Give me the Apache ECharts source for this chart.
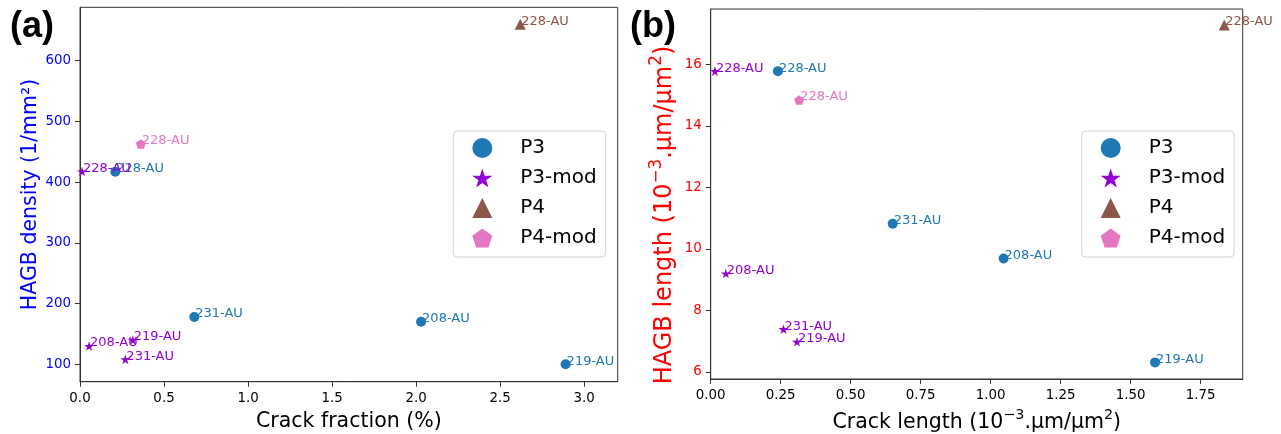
<!DOCTYPE html>
<html>
<head>
<meta charset="utf-8">
<script src="https://cdn.jsdelivr.net/npm/echarts@6/dist/echarts.min.js"></script>
<style>
  html, body { margin: 0; padding: 0; background: #fff; }
  #chart { width: 1281px; height: 434px; }
</style>
</head>
<body>
<div id="chart"></div>
<script>
// ---------- Panel (a): Crack fraction (%) vs HAGB density ----------
const aP3X = [0.21, 0.68, 2.03, 2.89];
const aP3Y = [417, 178, 170, 100];
const aP3Labels = ['228-AU', '231-AU', '208-AU', '219-AU'];

const aP3modX = [0.012, 0.054, 0.314, 0.27];
const aP3modY = [417.5, 130, 140, 108];
const aP3modLabels = ['228-AU', '208-AU', '219-AU', '231-AU'];

const aP4X = [2.62];
const aP4Y = [660];
const aP4Labels = ['228-AU'];

const aP4modX = [0.362];
const aP4modY = [463];
const aP4modLabels = ['228-AU'];

const aXTicks = [0, 0.5, 1.0, 1.5, 2.0, 2.5, 3.0];
const aYTicks = [100, 200, 300, 400, 500, 600];

// ---------- Panel (b): Crack length vs HAGB length ----------
const bP3X = [0.24, 0.65, 1.046, 1.587];
const bP3Y = [15.78, 10.82, 9.69, 6.31];
const bP3Labels = ['228-AU', '231-AU', '208-AU', '219-AU'];

const bP3modX = [0.015, 0.054, 0.26, 0.308];
const bP3modY = [15.78, 9.2, 7.39, 6.98];
const bP3modLabels = ['228-AU', '208-AU', '231-AU', '219-AU'];

const bP4X = [1.834];
const bP4Y = [17.28];
const bP4Labels = ['228-AU'];

const bP4modX = [0.316];
const bP4modY = [14.84];
const bP4modLabels = ['228-AU'];

const bXTicks = [0, 0.25, 0.5, 0.75, 1.0, 1.25, 1.5, 1.75];
const bYTicks = [6, 8, 10, 12, 14, 16];

const seriesNames = ['P3', 'P3-mod', 'P4', 'P4-mod'];

// ---------- styling ----------
const FONT = 'DejaVu Sans';
const C_P3 = '#1f77b4', C_P3MOD = '#9400d3', C_P4 = '#8c564b', C_P4MOD = '#e377c2';
const STAR = 'path://M0,-1 L0.2245,-0.309 L0.951,-0.309 L0.363,0.118 L0.588,0.809 L0,0.382 L-0.588,0.809 L-0.363,0.118 L-0.951,-0.309 L-0.2245,-0.309 Z';
const PENT = 'path://M0,-1 L0.951,-0.309 L0.588,0.809 L-0.588,0.809 L-0.951,-0.309 Z';
const SPINE = '#333';

function pts(xs, ys, names) {
  return xs.map((x, i) => ({ name: names[i], value: [x, ys[i]] }));
}

function mk(name, idx, xs, ys, names, symbol, size, color) {
  return {
    type: 'scatter', name: name, xAxisIndex: idx, yAxisIndex: idx,
    symbol: symbol, symbolSize: size, symbolKeepAspect: true,
    itemStyle: { color: color, opacity: 1 },
    data: pts(xs, ys, names),
    clip: false,
    label: {
      show: true, position: 'right', distance: -size / 2, offset: [1, -3],
      formatter: p => p.name, color: color, fontFamily: FONT, fontSize: 13
    },
    emphasis: { disabled: true }, z: 3
  };
}

function xAxis(idx, min, max, ticks, dec, nameText, nameGap, rich) {
  return {
    type: 'value', gridIndex: idx, min: min, max: max,
    name: nameText, nameLocation: 'middle', nameGap: nameGap,
    nameTextStyle: Object.assign({ fontFamily: FONT, fontSize: 20.5, color: '#000' }, rich ? { rich: rich } : {}),
    axisLine: { show: true, lineStyle: { color: SPINE, width: 1 } },
    axisTick: { show: true, inside: false, length: 5, lineStyle: { color: SPINE }, customValues: ticks },
    axisLabel: { show: true, margin: 10, color: '#000', fontFamily: FONT, fontSize: 13.4,
      customValues: ticks, formatter: v => Number(v).toFixed(dec) },
    splitLine: { show: false }
  };
}

function yAxis(idx, min, max, ticks, labelColor, nameText, nameGap, fs, rich, pad) {
  return {
    type: 'value', gridIndex: idx, min: min, max: max,
    name: nameText, nameLocation: 'middle', nameGap: nameGap, nameRotate: 90,
    nameTextStyle: Object.assign({ fontFamily: FONT, fontSize: fs, color: labelColor, padding: pad || 0 }, rich ? { rich: rich } : {}),
    axisLine: { show: true, lineStyle: { color: SPINE, width: 1 } },
    axisTick: { show: true, inside: false, length: 5, lineStyle: { color: SPINE }, customValues: ticks },
    axisLabel: { show: true, margin: 9, color: labelColor, fontFamily: FONT, fontSize: 13.4,
      customValues: ticks, formatter: v => String(Math.round(v)) },
    splitLine: { show: false }
  };
}

function richFor(color, fs) {
  return {
    n: { fontFamily: FONT, fontSize: fs, color: color, padding: [Math.round(fs * 0.2), 0, 0, 0] },
    s: { fontFamily: FONT, fontSize: fs * 0.7, color: color, verticalAlign: 'top' }
  };
}

function legend(left) {
  return {
    orient: 'vertical', left: left, top: 131,
    data: seriesNames,
    itemWidth: 20, itemHeight: 20, itemGap: 10,
    padding: [7, 9, 9, 19],
    backgroundColor: 'rgba(255,255,255,0.8)',
    borderColor: '#d3d3d3', borderWidth: 1, borderRadius: 4,
    textStyle: { fontFamily: FONT, fontSize: 20, color: '#000', padding: [0, 0, 0, 23] },
    selectedMode: false
  };
}

const option = {
  backgroundColor: '#fff',
  animation: false,
  title: [
    { text: '(a)', left: 5, top: 4, textStyle: { fontFamily: 'Liberation Sans', fontWeight: 'bold', fontSize: 36, color: '#000' } },
    { text: '(b)', left: 625, top: 4, textStyle: { fontFamily: 'Liberation Sans', fontWeight: 'bold', fontSize: 36, color: '#000' } }
  ],
  grid: [
    { left: 80, top: 7.3, width: 537.7, height: 374.4, show: true, borderColor: SPINE, borderWidth: 1, backgroundColor: 'transparent', containLabel: false, outerBoundsMode: 'none' },
    { left: 710.7, top: 9, width: 532, height: 370, show: true, borderColor: SPINE, borderWidth: 1, backgroundColor: 'transparent', containLabel: false, outerBoundsMode: 'none' }
  ],
  legend: [legend(453.3), legend(1081.7)],
  xAxis: [
    xAxis(0, 0, 3.2, aXTicks, 1, 'Crack fraction (%)', 29, null),
    xAxis(1, 0, 1.9, bXTicks, 2, '{n|Crack length (10}{s|\u22123}{n|.\u00b5m/\u00b5m}{s|2}{n|)}', 29, richFor('#000', 20.5))
  ],
  yAxis: [
    yAxis(0, 71.3, 688, aYTicks, '#0000ff', 'HAGB density (1/mm\u00b2)', 39, 20.5, null, 0),
    yAxis(1, 5.77, 17.8, bYTicks, '#ff0000', '{n|HAGB length (10}{s|\u22123}{n|.\u00b5m/\u00b5m}{s|2}{n|)}', 34, 24, richFor('#ff0000', 24), [0, 42, 0, 0])
  ],
  series: [
    mk('P3', 0, aP3X, aP3Y, aP3Labels, 'circle', 10, C_P3),
    mk('P3-mod', 0, aP3modX, aP3modY, aP3modLabels, STAR, 10, C_P3MOD),
    mk('P4', 0, aP4X, aP4Y, aP4Labels, 'triangle', 11, C_P4),
    mk('P4-mod', 0, aP4modX, aP4modY, aP4modLabels, PENT, 10, C_P4MOD),
    mk('P3', 1, bP3X, bP3Y, bP3Labels, 'circle', 10, C_P3),
    mk('P3-mod', 1, bP3modX, bP3modY, bP3modLabels, STAR, 10, C_P3MOD),
    mk('P4', 1, bP4X, bP4Y, bP4Labels, 'triangle', 11, C_P4),
    mk('P4-mod', 1, bP4modX, bP4modY, bP4modLabels, PENT, 10, C_P4MOD)
  ]
};

const chart = echarts.init(document.getElementById('chart'), null, { renderer: 'canvas' });
chart.setOption(option);
</script>
</body>
</html>
